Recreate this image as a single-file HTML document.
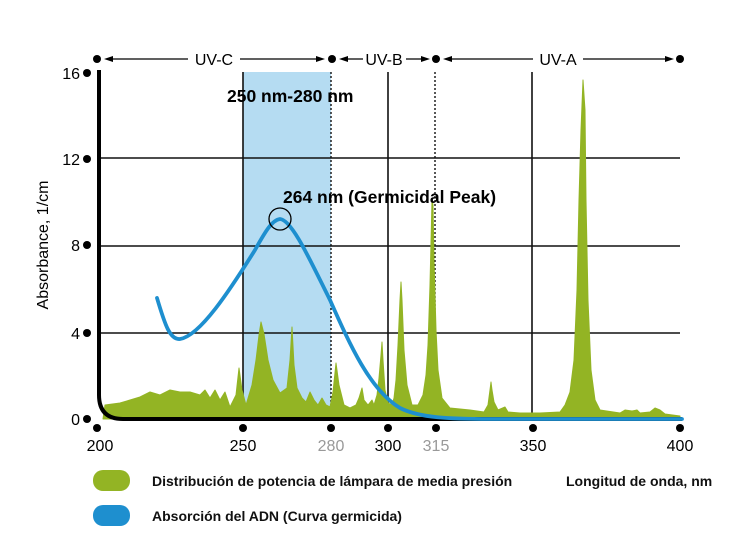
<!DOCTYPE html>
<html><head><meta charset="utf-8"><style>
html,body{margin:0;padding:0;background:#fff}
svg{display:block}
text{font-family:"Liberation Sans",sans-serif}
</style></head><body>
<svg width="750" height="550" viewBox="0 0 750 550" xmlns="http://www.w3.org/2000/svg">
<rect x="243" y="72" width="88" height="347" fill="#b5dcf2"/>
<g stroke="#111" stroke-width="1.6">
<line x1="99" y1="158" x2="680" y2="158"/>
<line x1="99" y1="246" x2="680" y2="246"/>
<line x1="99" y1="333" x2="680" y2="333"/>
<line x1="243" y1="72" x2="243" y2="419"/>
<line x1="388" y1="72" x2="388" y2="419"/>
<line x1="532" y1="72" x2="532" y2="419"/>
</g>
<g stroke="#111" stroke-width="1.4" stroke-dasharray="2,2">
<line x1="331" y1="72" x2="331" y2="419"/>
<line x1="435" y1="72" x2="435" y2="419"/>
</g>
<path fill="#93b424" stroke="#93b424" stroke-width="1" stroke-linejoin="round" d="M103,419 L105,405 120,403 140,397 150,392 160,395 170,390 180,392 190,392 200,395 205,390 210,398 215,390 220,400 225,392 230,407 236,395 239,368 242,390 246,405 252,385 256,360 259,335 261,322 264,334 268,360 273,380 280,393 287,388 290,360 292,327 294,365 297,388 302,398 306,402 310,392 314,400 318,405 322,398 326,405 330,407 333,392 336,363 339,385 344,405 350,408 356,405 359,398 362,388 364,400 368,405 372,400 374,405 377,395 379,378 381,355 382,342 383,360 385,390 388,403 392,405 394,398 396,380 398,345 400,300 401,282 402,300 404,350 407,385 412,405 418,405 423,395 426,375 428,345 430,285 432,200 433,205 434,260 436,330 438,370 442,398 450,408 470,410 484,412 488,405 490,390 491,382 492,390 494,402 498,410 505,407 508,412 520,413 540,413 560,412 565,405 570,392 574,360 577,290 579,200 581,130 583,80 585,110 586,200 588,300 591,370 595,400 600,410 620,413 625,410 632,411 637,410 640,413 650,412 655,408 660,410 665,414 680,416 680,419 Z"/>
<path d="M99,70 L99,395 Q99,419 123,419 L682,419" fill="none" stroke="#000" stroke-width="4"/>
<path d="M157,298 C165,325 170,340 180,339 C200,336 230,290 255,250 C265,232 272,220 280,219 C292,220 310,260 330,300 C350,345 370,390 400,408 C420,418 450,419 490,419 L682,419" fill="none" stroke="#1e8fcf" stroke-width="3.8" stroke-linecap="round"/>
<circle cx="280" cy="219" r="11" fill="none" stroke="#000" stroke-width="1.3"/>
<g fill="#000">
<circle cx="87" cy="73" r="4"/><circle cx="87" cy="159" r="4"/><circle cx="87" cy="245" r="4"/><circle cx="87" cy="333" r="4"/><circle cx="87" cy="419" r="4"/>
<circle cx="97" cy="428" r="4"/><circle cx="243" cy="428" r="4"/><circle cx="331" cy="428" r="4"/><circle cx="388" cy="428" r="4"/><circle cx="436" cy="428" r="4"/><circle cx="533" cy="428" r="4"/><circle cx="680" cy="428" r="4"/>
<circle cx="97" cy="59" r="4"/><circle cx="332" cy="59" r="4"/><circle cx="436" cy="59" r="4"/><circle cx="680" cy="59" r="4"/>
</g>
<g stroke="#000" stroke-width="1.3">
<line x1="110" y1="59" x2="188" y2="59"/><line x1="240" y1="59" x2="318" y2="59"/>
<line x1="345" y1="59" x2="363" y2="59"/><line x1="406" y1="59" x2="424" y2="59"/>
<line x1="449" y1="59" x2="533" y2="59"/><line x1="583" y1="59" x2="668" y2="59"/>
</g>
<g fill="#000">
<polygon points="104,59 113,56 113,62"/><polygon points="325,59 316,56 316,62"/>
<polygon points="339,59 348,56 348,62"/><polygon points="430,59 421,56 421,62"/>
<polygon points="443,59 452,56 452,62"/><polygon points="674,59 665,56 665,62"/>
</g>
<g font-size="16" fill="#000" text-anchor="middle">
<text x="214" y="65">UV-C</text><text x="384" y="65">UV-B</text><text x="558" y="65">UV-A</text>
</g>
<g font-size="16" fill="#000" text-anchor="end">
<text x="80" y="79">16</text><text x="80" y="165">12</text><text x="80" y="251">8</text><text x="80" y="339">4</text><text x="80" y="425">0</text>
</g>
<g font-size="16" text-anchor="middle">
<text x="100" y="451">200</text><text x="243" y="451">250</text><text x="331" y="451" fill="#999">280</text><text x="388" y="451">300</text><text x="436" y="451" fill="#999">315</text><text x="533" y="451">350</text><text x="680" y="451">400</text>
</g>
<text transform="translate(48,245) rotate(-90)" font-size="16" text-anchor="middle">Absorbance, 1/cm</text>
<text x="227" y="102" font-size="17.5" font-weight="bold">250 nm-280 nm</text>
<text x="283" y="203" font-size="17.5" font-weight="bold">264 nm (Germicidal Peak)</text>
<rect x="93" y="470" width="37" height="21" rx="10" fill="#93b424"/>
<rect x="93" y="505" width="37" height="21" rx="10" fill="#1e8fcf"/>
<g font-size="14" font-weight="bold" fill="#111">
<text x="152" y="486">Distribución de potencia de lámpara de media presión</text>
<text x="566" y="486">Longitud de onda, nm</text>
<text x="152" y="521">Absorción del ADN (Curva germicida)</text>
</g>
</svg>
</body></html>
